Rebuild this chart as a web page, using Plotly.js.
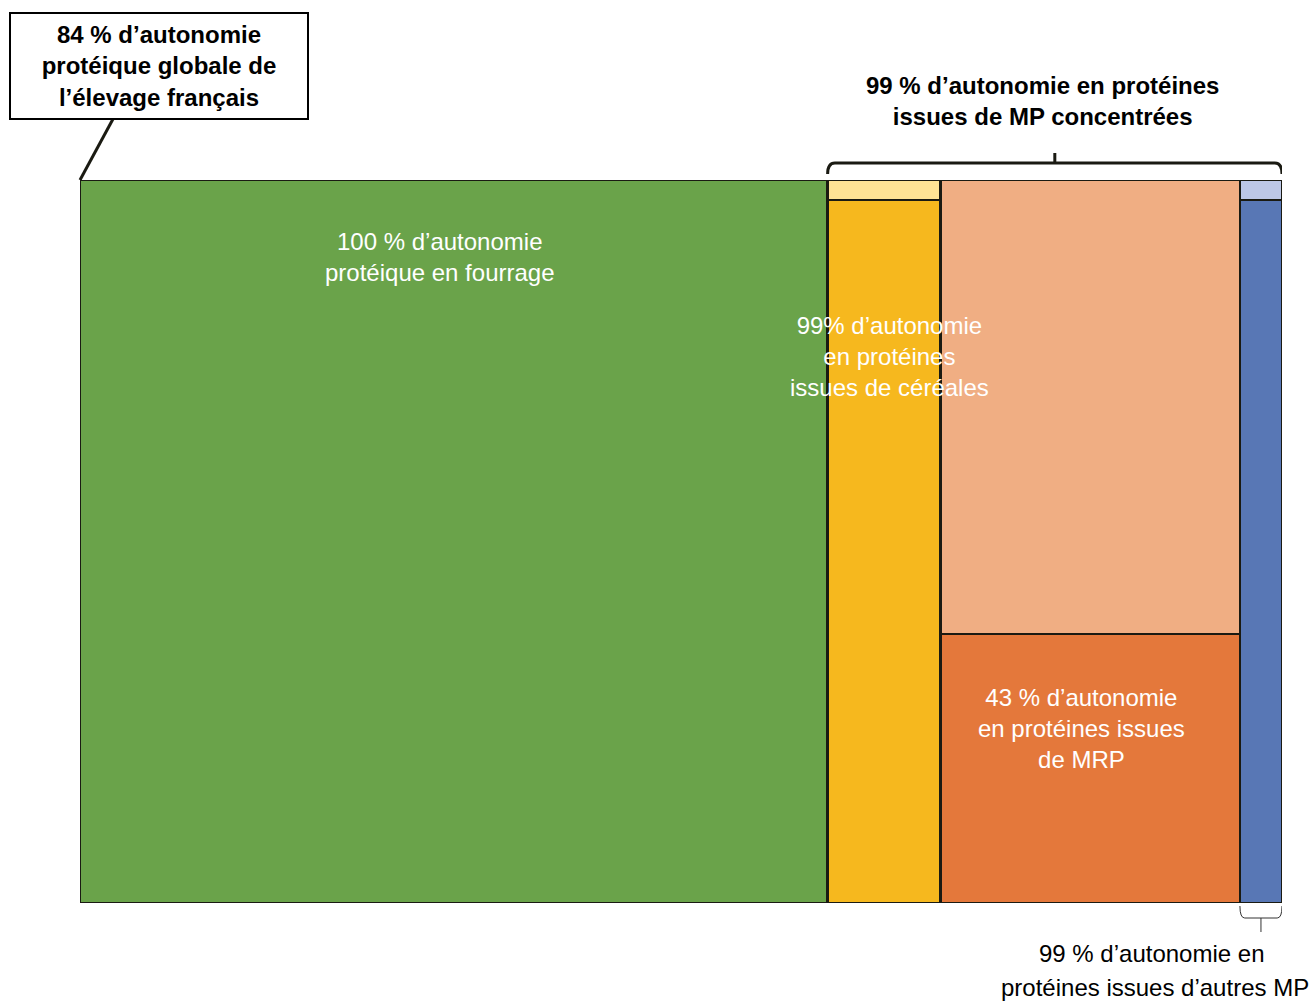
<!DOCTYPE html>
<html>
<head>
<meta charset="utf-8">
<script src="https://cdn.plot.ly/plotly-3.0.1.min.js"></script>
<style>html,body{margin:0;padding:0;background:#fff;}#chart{width:1311px;height:1001px;}</style>
</head>
<body>
<div id="chart"></div>
<script>
// Marimekko data: column widths (share of total, %) and segment heights (%)
const categories = ["Fourrages", "Céréales", "MRP", "Autres MP"];
const widths = [62.2, 9.4, 24.9, 3.5];
const autonomousShare = [100, 97.2, 37.2, 97.2];   // bottom (dark) segment
const importedShare = [0, 2.8, 62.8, 2.8];         // top (light) segment
const darkColors = ["#6AA34A", "#F6B81E", "#E4783B", "#5877B5"];
const lightColors = ["#6AA34A", "#FEE395", "#F0AE83", "#BCC7E6"];

// column left edges and centres from widths
const lefts = [];
let acc = 0;
widths.forEach(w => { lefts.push(acc); acc += w; });
const centres = widths.map((w, i) => lefts[i] + w / 2);

const lineStyle = {color: "#1a1a12", width: 2.5};
const FONT = "Liberation Sans, Arial, sans-serif";

const traces = [
  {type: "bar", x: centres, y: autonomousShare, width: widths, name: "autonome",
   marker: {color: darkColors, line: lineStyle}, hoverinfo: "skip", showlegend: false},
  {type: "bar", x: centres, y: importedShare, width: widths, name: "importé",
   marker: {color: lightColors, line: lineStyle}, hoverinfo: "skip", showlegend: false}
];

// Layout geometry (pixels) used to place labels/brackets outside the plot
const W = 1311, H = 1001, mL = 80, mR = 29, mT = 180, mB = 98;
const pw = W - mL - mR, ph = H - mT - mB;
const py = p => (H - mB - p) / ph;   // pixel y -> paper y
const px = p => (p - mL) / pw;       // pixel x -> paper x

// bracket over concentrates (columns 2..4)
const bx0 = lefts[1], bx1 = lefts[3] + widths[3], bxm = (bx0 + bx1) / 2;
const yH = py(163), yE = py(174), yT = py(153);
const topBracket = `M ${bx0},${yE} Q ${bx0},${yH} ${bx0 + 0.6},${yH} L ${bx1 - 0.6},${yH} Q ${bx1},${yH} ${bx1},${yE} M ${bxm},${yH} L ${bxm},${yT}`;
// bracket under "autres MP"
const cx0 = lefts[3], cx1 = lefts[3] + widths[3], cxm = (cx0 + cx1) / 2;
const y2a = py(906), y2h = py(918), y2t = py(932);
const botBracket = `M ${cx0},${y2a} Q ${cx0},${y2h} ${cx0 + 0.4},${y2h} L ${cx1 - 0.4},${y2h} Q ${cx1},${y2h} ${cx1},${y2a} M ${cxm},${y2h} L ${cxm},${y2t}`;

const layout = {
  width: W, height: H,
  margin: {l: mL, r: mR, t: mT, b: mB, pad: 0},
  paper_bgcolor: "#ffffff", plot_bgcolor: "#ffffff",
  barmode: "stack", bargap: 0,
  font: {family: FONT, size: 24, color: "#000"},
  xaxis: {range: [0, 100], visible: false, fixedrange: true},
  yaxis: {range: [0, 100], visible: false, fixedrange: true},
  showlegend: false,
  shapes: [
    {type: "path", xref: "x", yref: "paper", path: topBracket, line: {color: "#1a1a12", width: 3}},
    {type: "path", xref: "x", yref: "paper", path: botBracket, line: {color: "#333", width: 1}},
    {type: "line", xref: "paper", yref: "paper", x0: px(113), y0: py(119), x1: 0, y1: 1,
     line: {color: "#1a1a12", width: 3}}
  ],
  annotations: [
    {xref: "paper", yref: "paper", x: px(159), y: py(66), xanchor: "center", yanchor: "middle",
     text: "<b>84 % d’autonomie<br>protéique globale de<br>l’élevage français</b>", showarrow: false,
     font: {family: FONT, size: 24, color: "#000"}, bgcolor: "#fff", bordercolor: "#000", borderwidth: 2,
     borderpad: 2, width: 292, height: 100, align: "center"},
    {xref: "paper", yref: "paper", x: px(1042), y: py(101), xanchor: "center", yanchor: "middle",
     text: "<b>99 % d’autonomie en protéines<br>issues de MP concentrées</b>", showarrow: false,
     font: {family: FONT, size: 24, color: "#000"}, align: "center"},
    {xref: "paper", yref: "paper", x: px(440), y: py(257), xanchor: "center", yanchor: "middle",
     text: "100 % d’autonomie<br>protéique en fourrage", showarrow: false,
     font: {family: FONT, size: 24, color: "#fff"}, align: "center"},
    {xref: "paper", yref: "paper", x: px(889), y: py(356), xanchor: "center", yanchor: "middle",
     text: "99% d’autonomie<br>en protéines<br>issues de céréales", showarrow: false,
     font: {family: FONT, size: 24, color: "#fff"}, align: "center"},
    {xref: "paper", yref: "paper", x: px(1081), y: py(728), xanchor: "center", yanchor: "middle",
     text: "43 % d’autonomie<br>en protéines issues<br>de MRP", showarrow: false,
     font: {family: FONT, size: 24, color: "#fff"}, align: "center"},
    {xref: "paper", yref: "paper", x: px(1152), y: py(953), xanchor: "center", yanchor: "middle",
     text: "99 % d’autonomie en", showarrow: false,
     font: {family: FONT, size: 24, color: "#000"}},
    {xref: "paper", yref: "paper", x: px(1155), y: py(987), xanchor: "center", yanchor: "middle",
     text: "protéines issues d’autres MP", showarrow: false,
     font: {family: FONT, size: 24, color: "#000"}}
  ]
};

Plotly.newPlot("chart", traces, layout, {displayModeBar: false, staticPlot: true});
</script>
</body>
</html>
